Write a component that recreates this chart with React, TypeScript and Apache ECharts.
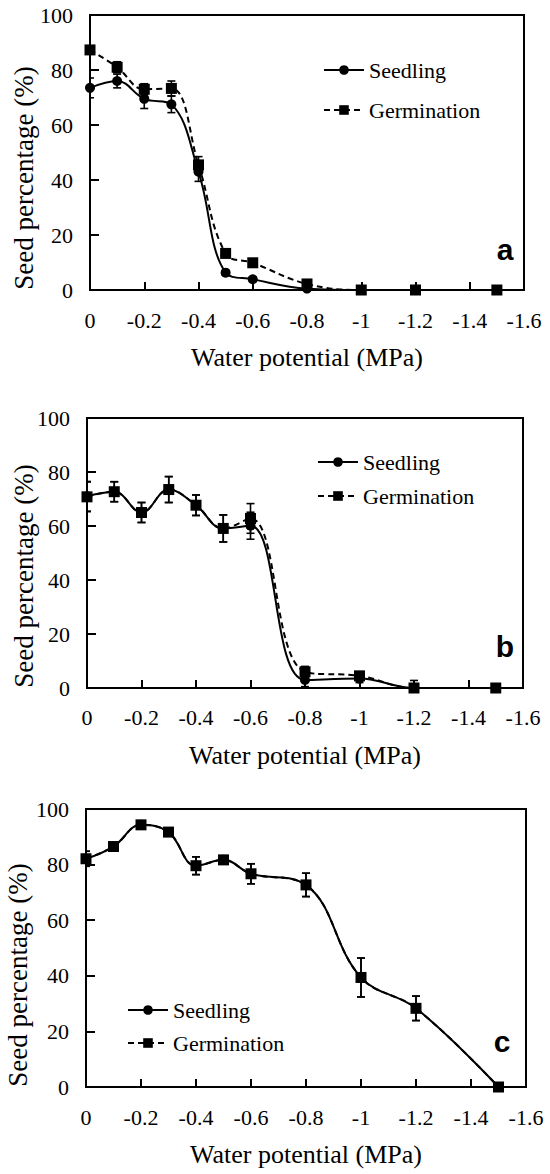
import React, { useEffect, useRef } from "react";
import * as echarts from "echarts";

// Water potential (MPa) of each treatment
const waterPotential = [0, -0.1, -0.2, -0.3, -0.4, -0.5, -0.6, -0.8, -1, -1.2, -1.5];
const yTicks = [0, 20, 40, 60, 80, 100];

// Panel a
const aSeedling = [73.5, 76, 69.5, 67.5, 43, 6.3, 3.9, 0.5, 0, 0, 0];
const aSeedlingErr = [3.6, 2.5, 3.5, 3, 3.5, 0.8, 0.8, 0.5, 0, 0, 0];
const aGermination = [87.3, 81, 73, 73.3, 45.5, 13.3, 9.9, 2.2, 0, 0, 0];
const aGerminationErr = [1, 2, 2, 2.7, 3, 1, 1, 1.5, 0, 0, 0];

// Panel b
const bSeedling = [71, 72.7, 65, 73.5, 67.7, 59.1, 60.1, 3, 3.5, 0, 0];
const bSeedlingErr = [5.5, 3.7, 3.7, 4.8, 3.8, 5, 5, 2.5, 1.5, 0, 0];
const bGermination = [70.8, 72.7, 65, 73.5, 67.7, 59.1, 62.8, 6, 4.5, 0, 0];
const bGerminationErr = [5.5, 3.7, 3.7, 4.8, 3.8, 5, 5.5, 2, 1.5, 2.8, 0];

// Panel c
const cSeedling = [82.1, 86.5, 94.3, 91.7, 79.6, 81.7, 76.7, 72.7, 39.4, 28.3, 0];
const cSeedlingErr = [2.7, 1, 1, 1.5, 3.2, 1, 3.6, 4.2, 7, 4.4, 0];
const cGermination = [82.1, 86.5, 94.3, 91.7, 79.6, 81.7, 76.7, 72.7, 39.4, 28.3, 0];
const cGerminationErr = [2.7, 1, 1, 1.5, 3.2, 1, 3.6, 4.2, 7, 4.4, 0];

const seriesNames = ["Seedling", "Germination"];
const panelLetters = ["a", "b", "c"];
const xTitle = "Water potential (MPa)";
const yTitle = "Seed percentage (%)";

const SERIF = "Liberation Serif";
const SANS = "Liberation Sans";

const grids = [
  { left: 90, top: 15, width: 434, height: 275 },
  { left: 87, top: 418, width: 436, height: 270 },
  { left: 86, top: 809, width: 440, height: 278 },
];
const labelMargins = [19, 18, 19];
const legendPos = [
  { left: 323, top: 59, gap: 18 },
  { left: 317, top: 451, gap: 12 },
  { left: 127, top: 999, gap: 11 },
];
const yTitlePos = [
  { x: 24.2, y: 178 },
  { x: 24.2, y: 576 },
  { x: 17.6, y: 975 },
];
const letterPos = [
  { x: 505, y: 249 },
  { x: 505, y: 646 },
  { x: 502, y: 1041 },
];

function errorSeries(idx: number, ys: number[], errs: number[]) {
  const data: number[][] = [];
  waterPotential.forEach((x, i) => {
    if (errs[i] > 0) data.push([x, ys[i] - errs[i], ys[i] + errs[i]]);
  });
  return {
    type: "custom",
    xAxisIndex: idx,
    yAxisIndex: idx,
    silent: true,
    clip: true,
    z: 2,
    data,
    encode: { x: 0, y: [1, 2] },
    renderItem: (params: any, api: any) => {
      const x = api.value(0);
      const lo = api.coord([x, api.value(1)]);
      const hi = api.coord([x, api.value(2)]);
      const hw = 4;
      const st = { stroke: "#000", lineWidth: 1.6 };
      return {
        type: "group",
        children: [
          { type: "line", shape: { x1: lo[0], y1: lo[1], x2: hi[0], y2: hi[1] }, style: st },
          { type: "line", shape: { x1: lo[0] - hw, y1: lo[1], x2: lo[0] + hw, y2: lo[1] }, style: st },
          { type: "line", shape: { x1: hi[0] - hw, y1: hi[1], x2: hi[0] + hw, y2: hi[1] }, style: st },
        ],
      };
    },
  };
}

function lineSeries(idx: number, name: string, ys: number[], dashed: boolean) {
  return {
    type: "line",
    name,
    xAxisIndex: idx,
    yAxisIndex: idx,
    data: waterPotential.map((x, i) => [x, ys[i]]),
    smooth: 0.4,
    clip: false,
    symbol: dashed ? "rect" : "circle",
    symbolSize: dashed ? 11 : 10,
    z: dashed ? 4 : 3,
    itemStyle: { color: "#000" },
    lineStyle: { color: "#000", width: 2, type: dashed ? [6, 4] : "solid" },
  };
}

export default function App() {
  const ref = useRef<HTMLDivElement>(null);
  useEffect(() => {
    if (!ref.current) return;
    const chart = echarts.init(ref.current, undefined, { renderer: "svg" });
    const panels = [
      [aSeedling, aSeedlingErr, aGermination, aGerminationErr],
      [bSeedling, bSeedlingErr, bGermination, bGerminationErr],
      [cSeedling, cSeedlingErr, cGermination, cGerminationErr],
    ];
    const series: any[] = [];
    panels.forEach((p, i) => {
      series.push(errorSeries(i, p[0], p[1]));
      series.push(errorSeries(i, p[2], p[3]));
      series.push(lineSeries(i, seriesNames[0], p[0], false));
      series.push(lineSeries(i, seriesNames[1], p[2], true));
    });
    const option: any = {
      animation: false,
      backgroundColor: "#fff",
      textStyle: { fontFamily: SERIF },
      grid: grids.map((g) => ({
        ...g,
        show: true,
        borderColor: "#000",
        borderWidth: 2,
        backgroundColor: "transparent",
        containLabel: false,
        outerBoundsMode: "none",
      })),
      xAxis: grids.map((_, i) => ({
        gridIndex: i,
        type: "value",
        inverse: true,
        min: -1.6,
        max: 0,
        interval: 0.2,
        axisLine: { show: true, lineStyle: { color: "#000", width: 2 } },
        axisTick: { show: true, inside: true, length: 8, lineStyle: { color: "#000", width: 2 } },
        splitLine: { show: false },
        axisLabel: {
          margin: labelMargins[i],
          color: "#000",
          fontFamily: SERIF,
          fontSize: 22,
          formatter: (v: number) => String(Number(v.toFixed(1)) || 0),
        },
        name: xTitle,
        nameLocation: "middle",
        nameGap: 54,
        nameTextStyle: { color: "#000", fontFamily: SERIF, fontSize: 26 },
      })),
      yAxis: grids.map((_, i) => ({
        gridIndex: i,
        type: "value",
        min: yTicks[0],
        max: yTicks[yTicks.length - 1],
        interval: 20,
        axisLine: { show: true, onZero: false, lineStyle: { color: "#000", width: 2 } },
        axisTick: { show: true, inside: true, length: 9, lineStyle: { color: "#000", width: 2 } },
        splitLine: { show: false },
        axisLabel: { margin: 17, color: "#000", fontFamily: SERIF, fontSize: 22 },
      })),
      legend: legendPos.map((l) => ({
        left: l.left,
        top: l.top,
        orient: "vertical",
        padding: 0,
        itemWidth: 40,
        itemHeight: 12,
        itemGap: l.gap,
        selectedMode: false,
        data: seriesNames,
        textStyle: { color: "#000", fontFamily: SERIF, fontSize: 22 },
      })),
      graphic: [
        ...yTitlePos.map((p) => ({
          type: "text",
          x: p.x,
          y: p.y,
          rotation: Math.PI / 2,
          silent: true,
          style: {
            text: yTitle,
            fill: "#000",
            fontFamily: SERIF,
            fontSize: 27,
            align: "center",
            verticalAlign: "middle",
            textAlign: "center",
            textVerticalAlign: "middle",
          },
        })),
        ...letterPos.map((p, i) => ({
          type: "text",
          x: p.x,
          y: p.y,
          silent: true,
          style: {
            text: panelLetters[i],
            fill: "#000",
            fontFamily: SANS,
            fontSize: 30,
            fontWeight: "bold",
            align: "center",
            verticalAlign: "middle",
            textAlign: "center",
            textVerticalAlign: "middle",
          },
        })),
      ],
      series,
    };
    chart.setOption(option);
    return () => chart.dispose();
  }, []);
  return (
    <div
      ref={ref}
      style={{ position: "fixed", left: 0, top: 0, width: 550, height: 1174, background: "#fff" }}
    />
  );
}
